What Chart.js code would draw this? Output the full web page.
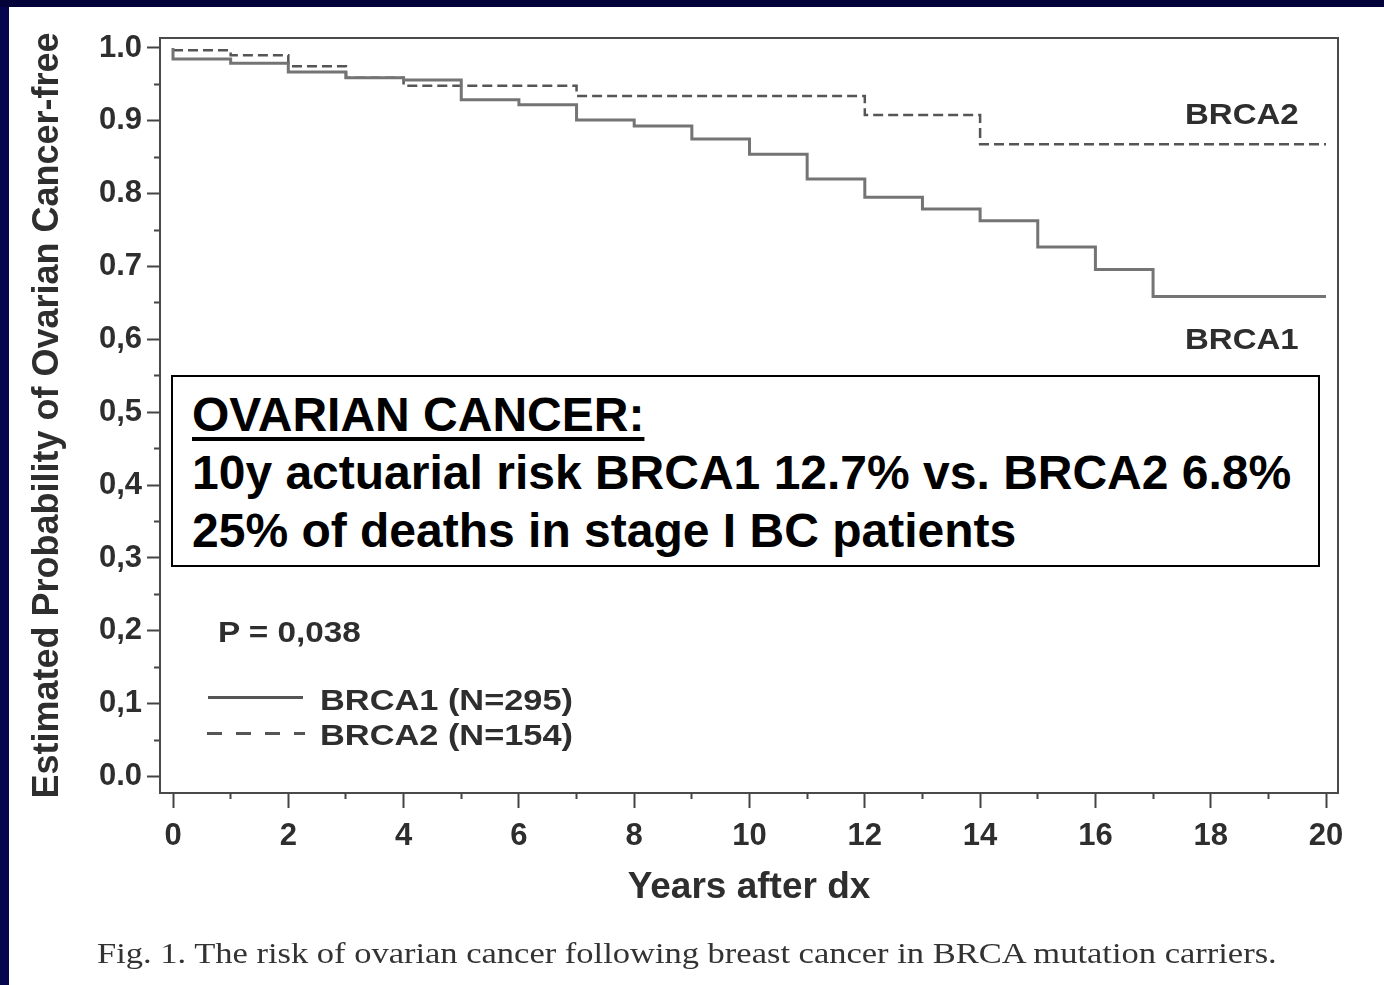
<!DOCTYPE html>
<html>
<head>
<meta charset="utf-8">
<script src="https://cdn.jsdelivr.net/npm/chart.js@4.4.1/dist/chart.umd.min.js"></script>
<style>
  html, body { margin: 0; padding: 0; background: #fff; }
  body { width: 1384px; height: 985px; position: relative; overflow: hidden; font-family: 'Liberation Sans', Arial, sans-serif; }
  #wrap { position: absolute; left: 0; top: 0; width: 1384px; height: 985px; }
  #navyLeft { position: absolute; left: 0; top: 0; width: 9px; height: 985px; background: #06064f; }
  #navyTop { position: absolute; left: 0; top: 0; width: 1384px; height: 7px; background: #03033a; }
  .fig { position: absolute; font-weight: bold; font-size: 30px; line-height: 30px; color: #2e2e2e; white-space: nowrap; transform-origin: left center; }
  .legline { position: absolute; height: 3px; }
  #note { position: absolute; left: 171px; top: 375px; width: 1149px; height: 192px; box-sizing: border-box;
          border: 2px solid #000; background: #fff; padding: 9px 0 0 19px;
          font-weight: bold; font-size: 48px; line-height: 58px; color: #000; white-space: nowrap; }
  #note .head { text-decoration: underline; text-decoration-thickness: 4px; text-underline-offset: 6px; }
  #caption { position: absolute; left: 97px; top: 938px; font-family: 'Liberation Serif', 'Times New Roman', serif;
             font-size: 30px; line-height: 30px; color: #333; white-space: nowrap;
             transform: scaleX(1.15); transform-origin: left center; }
</style>
</head>
<body>
<div id="wrap"><canvas id="km"></canvas></div>
<div id="navyLeft"></div>
<div id="navyTop"></div>

<div class="fig" style="left:1185px; top:99px; transform:scaleX(1.1)">BRCA2</div>
<div class="fig" style="left:1185px; top:324px; transform:scaleX(1.1)">BRCA1</div>

<div id="note">
  <div class="head">OVARIAN CANCER:</div>
  <div>10y actuarial risk BRCA1 12.7% vs. BRCA2 6.8%</div>
  <div>25% of deaths in stage I BC patients</div>
</div>

<div class="fig" style="left:218px; top:617px; transform:scaleX(1.11)">P = 0,038</div>
<div class="legline" style="left:208px; top:696px; width:95px; background:#555;"></div>
<div class="fig" style="left:320px; top:685px; font-size:29px; transform:scaleX(1.185)">BRCA1 (N=295)</div>
<div class="legline" style="left:207px; top:732px; width:98px; background:repeating-linear-gradient(to right, #555 0 15px, transparent 15px 29px);"></div>
<div class="fig" style="left:320px; top:720px; font-size:29px; transform:scaleX(1.185)">BRCA2 (N=154)</div>

<div id="caption">Fig. 1. The risk of ovarian cancer following breast cancer in BRCA mutation carriers.</div>

<script>
// Kaplan-Meier estimates (years after diagnosis)
var brca1Years = [0, 0, 1, 2, 3, 4, 5, 6, 7, 8, 9, 10, 11, 12, 13, 14, 15, 16, 17, 20];
var brca1Surv = [1.0, 0.985, 0.979, 0.967, 0.959, 0.956, 0.929, 0.922, 0.901, 0.893, 0.875, 0.854, 0.820, 0.795, 0.779, 0.763, 0.727, 0.696, 0.659, 0.659];

var brca2Years = [0, 1, 2, 3, 4, 7, 12, 14, 20];
var brca2Surv = [0.997, 0.990, 0.975, 0.959, 0.948, 0.934, 0.908, 0.868, 0.868];

// axis ticks
var xMajor = [0, 2, 4, 6, 8, 10, 12, 14, 16, 18, 20];
var xLabels = ['0', '2', '4', '6', '8', '10', '12', '14', '16', '18', '20'];
var xMinor = [1, 3, 5, 7, 9, 11, 13, 15, 17, 19];

var yMajor = [0, 0.1, 0.2, 0.3, 0.4, 0.5, 0.6, 0.7, 0.8, 0.9, 1.0];
var yLabels = ['0.0', '0,1', '0,2', '0,3', '0,4', '0,5', '0,6', '0.7', '0.8', '0.9', '1.0'];
var yMinor = [0.05, 0.15, 0.25, 0.35, 0.45, 0.55, 0.65, 0.75, 0.85, 0.95];

function toPoints(xs, ys) {
    var pts = [];
    for (var i = 0; i < xs.length; i++) {
        pts.push({x: xs[i], y: ys[i]});
    }
    return pts;
}

function findIndex(list, v) {
    for (var i = 0; i < list.length; i++) {
        if (Math.abs(list[i] - v) < 1e-6) return i;
    }
    return -1;
}

function tickList(major, minor) {
    return major.concat(minor).sort(function(a, b) { return a - b; }).map(function(v) { return {value: v}; });
}

var textColor = '#2e2e2e';
var fontFamily = "'Liberation Sans', Arial, sans-serif";

// box around the plot area
var framePlugin = {
    id: 'frame',
    beforeDatasetsDraw: function(chart) {
        var a = chart.chartArea, ctx = chart.ctx;
        ctx.save();
        ctx.strokeStyle = '#4a4a4a';
        ctx.lineWidth = 2;
        ctx.strokeRect(a.left, a.top, a.right - a.left, a.bottom - a.top);
        ctx.restore();
    }
};

Chart.defaults.font.family = fontFamily;

var canvas = document.getElementById('km');
canvas.width = 1384;
canvas.height = 985;

new Chart(canvas, {
    type: 'line',
    data: {
        datasets: [
            {
                label: 'BRCA1 (N=295)',
                data: toPoints(brca1Years, brca1Surv),
                stepped: true,
                borderColor: '#747474',
                borderWidth: 3,
                pointRadius: 0,
                fill: false
            },
            {
                label: 'BRCA2 (N=154)',
                data: toPoints(brca2Years, brca2Surv),
                stepped: true,
                borderColor: '#555555',
                borderWidth: 2.5,
                borderDash: [10, 5],
                pointRadius: 0,
                fill: false
            }
        ]
    },
    options: {
        responsive: false,
        animation: false,
        layout: { padding: { top: 38, right: 46, bottom: 72, left: 0 } },
        plugins: {
            legend: { display: false },
            tooltip: { enabled: false }
        },
        scales: {
            x: {
                type: 'linear',
                min: -0.2255,
                max: 20.208,
                afterFit: function(s) { s.height = 120; },
                afterBuildTicks: function(s) { s.ticks = tickList(xMajor, xMinor); },
                border: { display: false },
                grid: {
                    drawOnChartArea: false,
                    tickLength: 15,
                    tickWidth: 2,
                    tickColor: '#444',
                    tickBorderDash: function(c) {
                        return findIndex(xMinor, c.tick.value) >= 0 ? [6, 100] : [];
                    }
                },
                ticks: {
                    autoSkip: false,
                    maxRotation: 0,
                    padding: 10,
                    color: textColor,
                    font: { size: 31, weight: 'bold' },
                    callback: function(v) {
                        var i = findIndex(xMajor, v);
                        return i >= 0 ? xLabels[i] : '';
                    }
                },
                title: {
                    display: true,
                    text: 'Years after dx',
                    color: textColor,
                    font: { size: 37, weight: 'bold' },
                    padding: { top: 0, bottom: 3 }
                }
            },
            y: {
                min: -0.0226,
                max: 1.0137,
                afterFit: function(s) { s.width = 160; },
                afterBuildTicks: function(s) { s.ticks = tickList(yMajor, yMinor); },
                border: { display: false },
                grid: {
                    drawOnChartArea: false,
                    tickLength: 13,
                    tickWidth: 2,
                    tickColor: '#444',
                    tickBorderDash: function(c) {
                        return findIndex(yMinor, c.tick.value) >= 0 ? [0, 7, 6, 100] : [];
                    }
                },
                ticks: {
                    autoSkip: false,
                    padding: 5,
                    color: textColor,
                    font: { size: 31, weight: 'bold' },
                    callback: function(v) {
                        var i = findIndex(yMajor, v);
                        return i >= 0 ? yLabels[i] : '';
                    }
                },
                title: {
                    display: true,
                    text: 'Estimated Probability of Ovarian Cancer-free',
                    color: textColor,
                    font: { size: 36, weight: 'bold' },
                    padding: { top: 26, bottom: 0 }
                }
            }
        }
    },
    plugins: [framePlugin]
});
</script>
</body>
</html>
